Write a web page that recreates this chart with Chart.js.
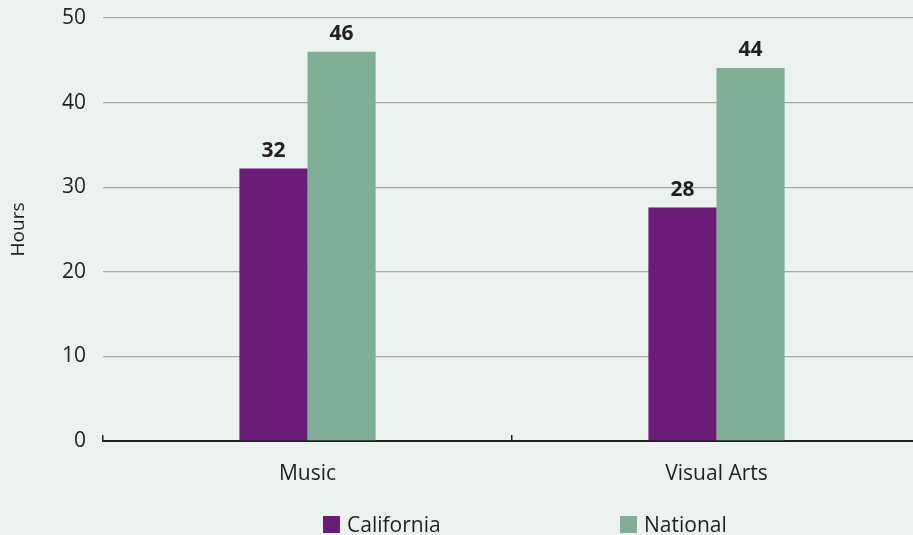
<!DOCTYPE html>
<html>
<head>
<meta charset="utf-8">
<script src="https://cdn.jsdelivr.net/npm/chart.js@4/dist/chart.umd.min.js"></script>
<style>
  html, body { margin: 0; padding: 0; background: #ecf2ef; }
  #wrap { position: relative; width: 913px; height: 535px; overflow: hidden; }
  #legend { position: absolute; left: 0; top: 514px; width: 913px; height: 21px; font-family: "Open Sans", sans-serif; font-size: 21px; color: #231f20; }
  .item { position: absolute; top: 0; line-height: 21px; white-space: nowrap; }
  .box { display: inline-block; width: 17px; height: 17px; vertical-align: -1px; margin-right: 7px; }
</style>
</head>
<body>
<div id="wrap">
  <!-- canvas is a bit wider than the window: the plot runs past the right edge -->
  <canvas id="chart" width="921" height="535"></canvas>
  <div id="legend"></div>
</div>
<script>
// data
const categories = ["Music", "Visual Arts"];
const californiaHours = [32.2, 27.6];
const nationalHours = [46, 44.1];
const californiaLabels = ["32", "28"];
const nationalLabels = ["46", "44"];
const yTicks = [0, 10, 20, 30, 40, 50];

const purple = "#6b1c77";
const green = "#80ae96";
const ink = "#231f20";

// value labels above the bars
const barLabels = {
    id: "barLabels",
    afterDatasetsDraw(chart) {
        const ctx = chart.ctx;
        ctx.save();
        ctx.font = "bold 21px 'Open Sans'";
        ctx.fillStyle = ink;
        ctx.textAlign = "center";
        ctx.textBaseline = "bottom";
        chart.data.datasets.forEach((ds, i) => {
            chart.getDatasetMeta(i).data.forEach((bar, j) => {
                ctx.fillText(ds.valueLabels[j], bar.x, bar.y - 7);
            });
        });
        ctx.restore();
    }
};

const chart = new Chart(document.getElementById("chart"), {
    type: "bar",
    data: {
        labels: categories,
        datasets: [
            { label: "California", data: californiaHours, valueLabels: californiaLabels, backgroundColor: purple },
            { label: "National", data: nationalHours, valueLabels: nationalLabels, backgroundColor: green }
        ]
    },
    options: {
        responsive: false,
        animation: false,
        layout: { padding: { top: 18, right: 0, bottom: 39, left: 0 } },
        categoryPercentage: 0.333,
        barPercentage: 1,
        plugins: {
            legend: { display: false },
            tooltip: { enabled: false }
        },
        scales: {
            x: {
                grid: {
                    offset: true,
                    drawOnChartArea: false,
                    drawTicks: true,
                    tickLength: -6,
                    color: ink,
                    lineWidth: 1.5
                },
                border: { display: true, color: ink, width: 2 },
                ticks: {
                    color: ink,
                    padding: 26,
                    font: { family: "Open Sans", size: 21 }
                },
                afterFit(scale) { scale.height = 55; }
            },
            y: {
                min: 0,
                max: 50,
                afterBuildTicks(scale) { scale.ticks = yTicks.map(v => ({ value: v })); },
                grid: {
                    drawTicks: false,
                    color: ctx => ctx.tick && ctx.tick.value === 0 ? "rgba(0,0,0,0)" : "#aca6a2",
                    lineWidth: 1.3
                },
                border: { display: false },
                ticks: {
                    color: ink,
                    padding: 17,
                    font: { family: "Open Sans", size: 21 }
                },
                title: {
                    display: true,
                    text: "Hours",
                    color: ink,
                    padding: { top: 7, bottom: 0 },
                    font: { family: "Open Sans", size: 19 }
                },
                afterFit(scale) {
                    scale.width = 103;
                    // tick padding would otherwise push the plot top down
                    scale.paddingTop = 0;
                    scale.paddingBottom = 0;
                }
            }
        }
    },
    plugins: [barLabels]
});

// legend with the wide gap of the original
const legendLeft = [323, 620];
const legend = document.getElementById("legend");
chart.data.datasets.forEach((ds, i) => {
    const item = document.createElement("div");
    item.className = "item";
    item.style.left = legendLeft[i] + "px";
    item.innerHTML = '<span class="box" style="background:' + ds.backgroundColor + '"></span>' + ds.label;
    legend.appendChild(item);
});
</script>
</body>
</html>
